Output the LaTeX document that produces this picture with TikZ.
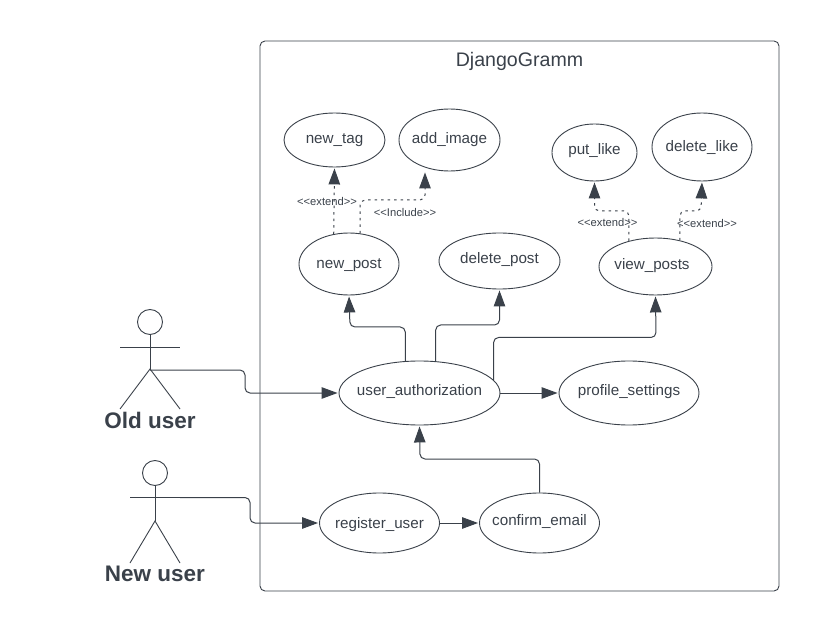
\documentclass[tikz,border=0pt]{standalone}
\usepackage{fontspec}
\setmainfont{Liberation Sans}
\usetikzlibrary{arrows.meta,shapes.geometric}
\definecolor{ink}{HTML}{3A414A}
\newcommand{\ucname}[2]{\makebox[0pt]{\smash{\raisebox{#1}{#2}}}}

\begin{document}
\begin{tikzpicture}[x=1pt,y=-1pt]
 \tikzset{usecase/.style = {shape=ellipse,draw=ink,line width=0.9pt,inner sep=0pt,text=ink,font=\fontsize{15.2}{18}\selectfont}}
 \tikzset{edge/.style = {draw=ink,line width=1pt,rounded corners=5pt,-{Triangle[length=16pt,width=11.5pt]},shorten >=1pt}}
 \tikzset{extendedge/.style = {edge,dash pattern=on 2.5pt off 4pt}}
 \tikzset{limb/.style = {draw=ink,line width=0.9pt}}
 \tikzset{stereo/.style = {text=ink,inner sep=0pt,font=\fontsize{11.2}{13}\selectfont}}
 \tikzset{actorname/.style = {text=ink,inner sep=0pt,font=\fontsize{22.5}{27}\selectfont\bfseries}}
 \useasboundingbox (0,0) rectangle (820,631);

 \node[draw=ink,line width=0.9pt,rounded corners=5pt,minimum width=519pt,minimum height=550pt,inner sep=0pt] (system) at (519.5,316) {};
 \node[text=ink,inner sep=0pt,font=\fontsize{19.6}{24}\selectfont] (title) at (519.5,61) {DjangoGramm};

 \node[usecase,minimum width=101pt,minimum height=54pt] (newtag) at (334.5,140) {\ucname{-3.3pt}{new\_tag}};
 \node[usecase,minimum width=101pt,minimum height=62pt] (addimage) at (449.5,140) {\ucname{-3.3pt}{add\_image}};
 \node[usecase,minimum width=100pt,minimum height=62pt] (newpost) at (349,264) {\ucname{-5pt}{new\_post}};
 \node[usecase,minimum width=121pt,minimum height=56pt] (deletepost) at (499.5,261) {\ucname{-2.3pt}{delete\_post}};
 \node[usecase,minimum width=85pt,minimum height=57pt] (putlike) at (594.5,152.5) {\ucname{-2.5pt}{put\_like}};
 \node[usecase,minimum width=100pt,minimum height=68pt] (deletelike) at (702,147) {\ucname{-4.7pt}{delete\_like}};
 \node[usecase,minimum width=113pt,minimum height=57pt] (viewposts) at (655.5,266.5) {\ucname{-2.8pt}{\hspace*{-7pt}view\_posts}};
 \node[usecase,minimum width=161pt,minimum height=64pt] (userauth) at (419.5,393) {\ucname{-2.7pt}{user\_authorization}};
 \node[usecase,minimum width=140pt,minimum height=64pt] (profile) at (629,393) {\ucname{-2.7pt}{profile\_settings}};
 \node[usecase,minimum width=120pt,minimum height=60pt] (register) at (379.5,523) {\ucname{-5.3pt}{register\_user}};
 \node[usecase,minimum width=120pt,minimum height=60pt] (confirm) at (539.5,523) {\ucname{-2pt}{confirm\_email}};

 % old user
 \node[circle,limb,minimum size=25pt,inner sep=0pt] (oldhead) at (150,322) {};
 \coordinate (oldhip) at (150,369);
 \draw[limb] (oldhead) -- (oldhip);
 \draw[limb] (120,347) -- (180,347);
 \draw[limb] (120,409) -- (oldhip) -- (180,409);
 \node[actorname] (oldname) at (150,420.5) {Old user};

 % new user
 \node[circle,limb,minimum size=25pt,inner sep=0pt] (newhead) at (155,473) {};
 \coordinate (newhip) at (155,521);
 \coordinate (newarm) at (180,497.5);
 \draw[limb] (newhead) -- (newhip);
 \draw[limb] (130,497.5) -- (newarm);
 \draw[limb] (130,563) -- (newhip) -- (180,563);
 \node[actorname] (newname) at (155,573.5) {New user};

 \draw[edge] (oldhip) ++(0,1) -| (245,393) -- (userauth.west);
 \draw[edge] (newarm) -| (250,523) -- (register.west);

 \draw[edge] (userauth.114.7) |- (350,327) -- (newpost.south);
 \draw[edge] (userauth.63.7) |- (499.5,325) -- (deletepost.south);
 \draw[edge] (userauth.10) |- (656,337.5) -- (viewposts.south);
 \draw[edge] (userauth.east) -- (profile.west);
 \draw[edge] (confirm.north) |- (420,459) -- (userauth.south);
 \draw[edge] (register.east) -- (confirm.west);

 \draw[extendedge] (newpost.117) -- (newtag.south);
 \draw[extendedge] (newpost.70) |- (425,200) -- (addimage.south -| 425,171);
 \draw[extendedge] (viewposts.136) |- (594.5,211) -- (putlike.south);
 \draw[extendedge] (viewposts.47.8) |- (701,211) -- (deletelike.south);

 \node[stereo] (extendone) at (327,201) {<{}<extend>{}>};
 \node[stereo] (includeone) at (405,212) {<{}<Include>{}>};
 \node[stereo] (extendtwo) at (607.5,222) {<{}<extend>{}>};
 \node[stereo] (extendthree) at (707,223) {<{}<extend>{}>};
\end{tikzpicture}
\end{document}
